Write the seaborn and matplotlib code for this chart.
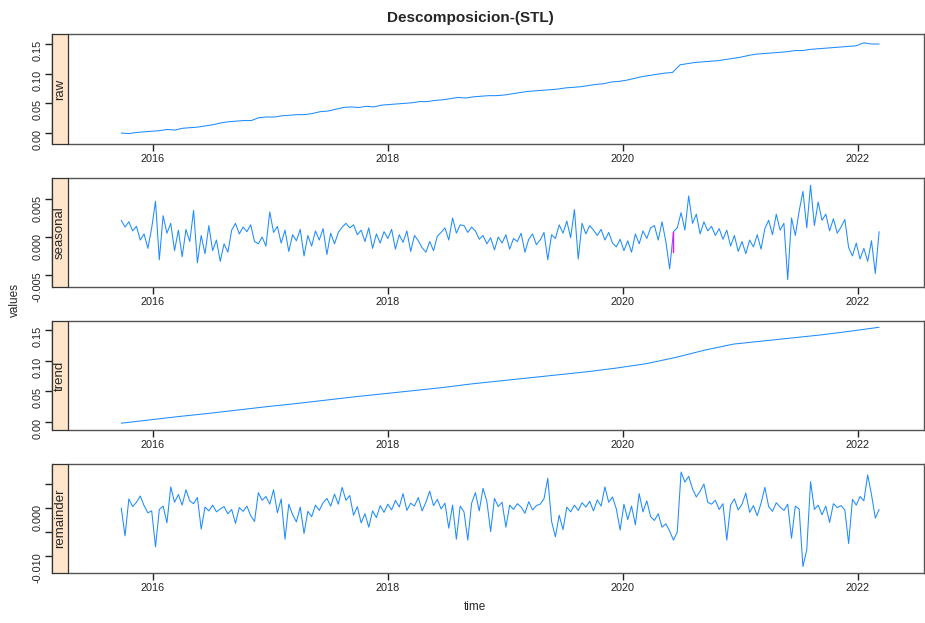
import numpy as np
import pandas as pd
import seaborn as sns
import matplotlib.pyplot as plt
from matplotlib.patches import Rectangle

# datos (serie diaria aprox., sep-2015 a mar-2022)
t_inicio, t_fin = 2015.73, 2022.18

raw = [0.000, -0.001, 0.001, 0.002, 0.003,
       0.004, 0.006, 0.005, 0.008, 0.009,
       0.010, 0.012, 0.014, 0.017, 0.019,
       0.020, 0.021, 0.021, 0.026, 0.027,
       0.027, 0.029, 0.030, 0.031, 0.031,
       0.033, 0.036, 0.037, 0.040, 0.043,
       0.044, 0.043, 0.045, 0.044, 0.047,
       0.048, 0.049, 0.050, 0.051, 0.053,
       0.053, 0.055, 0.056, 0.058, 0.060,
       0.059, 0.061, 0.062, 0.063, 0.063,
       0.064, 0.066, 0.068, 0.070, 0.071,
       0.072, 0.073, 0.074, 0.076, 0.077,
       0.078, 0.080, 0.082, 0.083, 0.086,
       0.087, 0.089, 0.092, 0.095, 0.097,
       0.099, 0.101, 0.102, 0.115, 0.117,
       0.119, 0.120, 0.121, 0.122, 0.124,
       0.126, 0.128, 0.131, 0.133, 0.134,
       0.135, 0.136, 0.137, 0.139, 0.139,
       0.141, 0.142, 0.143, 0.144, 0.145,
       0.146, 0.147, 0.152, 0.150, 0.150]

# estacional y residuo en milesimas
seasonal_mil = [2.2, 1.3, 2.0, 0.8, 1.4, -0.4, 0.4, -1.5, 1.2, 4.7,
                -3.0, 2.8, 0.5, 1.8, -1.8, 0.9, -2.6, 1.0, -0.6, 3.5,
                -3.4, 0.2, -2.2, 1.5, -1.8, -0.4, -3.2, -0.9, -2.0, 0.9,
                1.8, 0.4, 1.3, 0.7, 1.6, -0.6, -0.9, 0.0, -1.2, 3.3,
                0.6, 1.4, -0.8, 0.9, -1.9, 0.3, -0.5, 1.0, -2.5, 0.2,
                -1.2, 0.8, -0.4, 1.1, -2.3, 0.5, -0.9, 0.6, 1.3, 1.8,
                1.2, 1.6, 0.3, 0.9, -0.6, 1.2, -1.5, 0.4, -0.8, 0.7,
                -0.2, 1.0, -1.6, 0.3, -0.7, 0.8, -1.9, 0.2, -0.5, -1.4,
                -2.0, -0.6, -1.8, 0.1, 0.6, 1.2, -0.4, 2.5, 0.5, 1.6,
                1.5, 0.6, 1.3, 0.8, -0.3, 0.2, -0.9, -0.1, -1.7, 0.0,
                -0.8, 0.3, -1.6, -0.2, -0.6, 0.5, -2.0, -0.3, 0.4, -1.0,
                -0.4, 0.6, -3.0, 0.3, -0.2, 1.6, 0.5, 2.1, -0.1, 3.6,
                -2.9, 1.8, 0.4, 1.5, 0.9, 0.2, 1.0, -0.4, 0.6, -0.8,
                -1.3, -0.3, -1.8, -0.5, -2.0, 0.4, -0.9, 0.8, -0.2, 1.2,
                1.5, -0.4, 2.0, -0.6, -4.2, 0.7, 1.2, 3.2, 0.9, 5.4,
                1.8, 3.0, 0.4, 2.0, 0.8, 1.4, 0.2, 1.1, -0.3, 0.9,
                -1.2, 0.2, -1.9, -0.6, -2.2, -0.4, -1.3, 0.3, -1.6, 1.1,
                2.2, 0.3, 3.0, 0.9, 1.8, -5.6, 2.5, 0.2, 3.4, 6.0,
                1.2, 6.8, 1.5, 4.6, 2.2, 3.0, 0.8, 2.4, 0.5, 1.3,
                2.3, -1.4, -2.5, -0.8, -2.9, -1.5, -3.2, -0.5, -4.8, 0.7]

trend = [-0.002, 0.0035, 0.009, 0.014, 0.0195, 0.025, 0.030, 0.0355, 0.041,
         0.046, 0.051, 0.056, 0.062, 0.067, 0.072, 0.077, 0.082, 0.088,
         0.095, 0.105, 0.117, 0.127, 0.132, 0.137, 0.142, 0.148, 0.1545]

remainder_mil = [0.0, -5.8, 1.9, 0.3, 1.2, 2.5, 0.5, -1.0, -0.6, -8.1,
                 -0.3, 0.4, -3.1, 4.4, 1.2, 2.8, 0.6, 3.8, 1.5, 0.9,
                 2.2, -4.4, 0.2, -0.6, 0.6, -0.8, -0.2, 0.3, -1.2, -0.3,
                 -3.2, 0.1, -0.7, 0.4, -1.6, -2.8, 3.2, 1.6, 2.4, 0.8,
                 3.8, -1.0, 1.9, -6.5, 0.8, -1.4, -2.9, 0.2, -5.3, -0.7,
                 -1.8, 0.6, -0.5, 1.1, 2.0, 0.4, 2.9, 0.8, 4.3, 1.6,
                 2.6, -1.5, 0.3, -3.1, -1.2, -4.0, -0.6, -2.0, 0.5, -0.9,
                 0.8, -0.4, 1.6, 0.2, 3.0, -0.5, 1.0, 0.4, 2.2, -0.6,
                 1.2, 3.5, 0.5, 1.8, -0.2, 1.0, -4.2, 0.6, -6.5, 0.4,
                 -0.8, -6.7, 1.0, 3.2, -0.6, 4.1, 1.4, -4.9, 2.0, 0.3,
                 1.2, -4.0, 0.6, -0.3, 0.9, 0.2, -1.1, 1.3, -0.4, 0.5,
                 0.8, 1.9, 6.2, -2.8, -6.0, -1.5, -4.5, 0.2, -0.8, 0.6,
                 -0.5, 1.1, 0.2, 1.4, -0.6, 1.7, 0.4, 4.4, 1.2, 2.3,
                 -0.2, -4.6, 0.8, -2.4, 0.4, -3.5, 3.0, -0.8, 1.5, -1.8,
                 -2.6, -1.2, -4.0, -3.3, -4.8, -6.7, -5.0, 7.5, 5.4, 6.6,
                 4.0, 2.3, 3.5, 5.0, 1.2, 0.8, 1.6, -0.3, 0.9, -6.7,
                 0.6, 1.9, -0.4, 0.8, 3.1, -0.9, 0.5, -1.6, 1.0, 4.3,
                 0.3, -0.7, 1.1, 0.2, -0.5, 0.8, -6.3, 0.4, -0.2, -12.2,
                 -8.7, 5.5, -0.3, 0.6, -1.4, 0.4, -3.0, 0.9, 0.1, 0.5,
                 -0.4, -7.4, 1.8, 0.6, 2.4, 1.5, 6.9, 2.8, -2.1, -0.3]

# pequeno tramo en magenta dentro del estacional
rosa_t = [2020.43, 2020.43]
rosa_mil = [0.7, -2.0]


def serie(vals, escala=1.0):
    vals = np.asarray(vals) * escala
    return pd.DataFrame({'time': np.linspace(t_inicio, t_fin, len(vals)), 'value': vals})


sns.set_style('ticks')
plt.rcParams['font.family'] = ['Liberation Sans', 'DejaVu Sans']

W, H = 925, 623
fig = plt.figure(figsize=(W / 100, H / 100), dpi=100)

paneles = [
    ('raw', serie(raw), (34, 144), (-0.0185, 0.1669),
     [0.00, 0.05, 0.10, 0.15], ['0.00', '0.05', '0.10', '0.15']),
    ('seasonal', serie(seasonal_mil, 1e-3), (178, 287), (-0.00658, 0.00776),
     [-0.005, 0.0, 0.005], ['-0.005', '0.000', '0.005']),
    ('trend', serie(trend), (321, 430), (-0.0131, 0.1647),
     [0.00, 0.05, 0.10, 0.15], ['0.00', '0.05', '0.10', '0.15']),
    ('remainder', serie(remainder_mil, 1e-3), (464, 573), (-0.01354, 0.00917),
     [-0.010, -0.005, 0.0, 0.005], ['-0.010', '', '0.000', '']),
]

azul = '#1E8CFF'
x0, x1 = 68, 924
strip_w = 16 / (x1 - x0)

for nombre, df, (ytop, ybot), ylim, yt, ytl in paneles:
    ax = fig.add_axes([x0 / W, 1 - ybot / H, (x1 - x0) / W, (ybot - ytop) / H])
    sns.lineplot(data=df, x='time', y='value', ax=ax, color=azul, lw=0.75,
                 estimator=None, sort=False)
    if nombre == 'seasonal':
        rosa = pd.DataFrame({'time': rosa_t, 'value': np.asarray(rosa_mil) * 1e-3})
        sns.lineplot(data=rosa, x='time', y='value', ax=ax, color='#FF00FF',
                     lw=1.0, estimator=None, sort=False)
    ax.set_xlim(2015.277, 2022.562)
    ax.set_ylim(*ylim)
    ax.set_xlabel('')
    ax.set_ylabel('')
    ax.set_xticks([2016, 2018, 2020, 2022])
    ax.set_yticks(yt)
    ax.set_yticklabels(ytl)
    ax.tick_params(labelsize=7.8, length=5, width=1, pad=2, colors='#222222')
    ax.tick_params(axis='y', labelrotation=90)
    for lab in ax.get_yticklabels():
        lab.set_va('center')
    ax.spines['left'].set_position(('outward', 16 * 72 / 100))
    for s in ax.spines.values():
        s.set_color('#555555')
        s.set_linewidth(1)
    # tira lateral con el nombre del componente
    ax.add_patch(Rectangle((-strip_w, 0), strip_w, 1, transform=ax.transAxes,
                           facecolor='#FFE5CC', edgecolor='#333333', lw=0.9,
                           clip_on=False, zorder=5))
    ax.text(-strip_w / 2, 0.5, nombre, transform=ax.transAxes, rotation=90,
            ha='center', va='center', fontsize=9.5, zorder=6)

fig.text(470 / W, 1 - 18 / H, 'Descomposicion-(STL)', ha='center', va='center',
         fontsize=11, fontweight='bold')
fig.text(15 / W, 1 - 300 / H, 'values', rotation=90, ha='center', va='center', fontsize=8.5)
fig.text(475 / W, 1 - 607 / H, 'time', ha='center', va='center', fontsize=8.5)

fig.savefig('out.png', dpi=100)
